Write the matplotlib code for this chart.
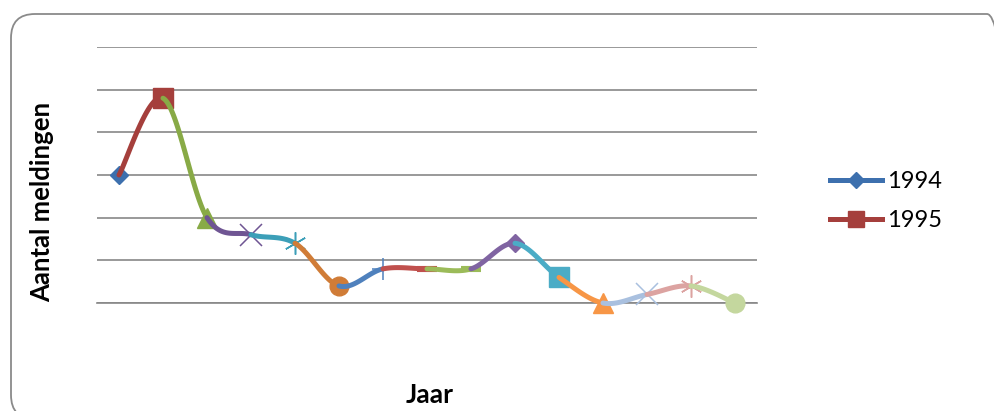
import numpy as np
import matplotlib.pyplot as plt
from matplotlib.lines import Line2D
from matplotlib.patches import FancyBboxPatch
from matplotlib.transforms import IdentityTransform

plt.rcParams['font.family'] = ['Lato', 'DejaVu Sans']

jaren = [1994, 1995, 1996, 1997, 1998, 1999, 2000, 2001,
         2002, 2003, 2004, 2005, 2006, 2007, 2008]
meldingen = [15, 24, 10, 8, 7, 2, 4, 4, 4, 7, 3, 0, 1, 2, 0]

kleuren = ['#3d70ae', '#a53f3c', '#88aa46', '#6f5593', '#3c9fb8', '#d07c37',
           '#4f81bd', '#c0504d', '#9bbb59', '#8064a2', '#4bacc6', '#f79646',
           '#a9c0df', '#dca3a1', '#c4d79e']
markers = ['D', 's', '^', 'x', (6, 2, 0), 'o', '+', '_',
           '_', 'D', 's', '^', 'x', (6, 2, 0), 'o']
maten = {'D': 9, 's': 14, '^': 15, 'x': 16, 'o': 13.5, '+': 16, '_': 14}


def bezier_stuk(p, i, n=40):
    # smoothed piece between point i and i+1, Excel style
    vorige = p[max(i - 1, 0)]
    a = p[i]
    b = p[i + 1]
    volgende = p[min(i + 2, len(p) - 1)]
    c1 = a + (b - vorige) / 6
    c2 = b - (volgende - a) / 6
    t = np.linspace(0, 1, n)[:, None]
    return (1 - t) ** 3 * a + 3 * (1 - t) ** 2 * t * c1 + 3 * (1 - t) * t ** 2 * c2 + t ** 3 * b


fig = plt.figure(figsize=(9.94, 4.11), dpi=100)

rand = FancyBboxPatch((11, -8), 1000, 405, boxstyle='round,pad=0,rounding_size=24',
                      transform=IdentityTransform(), facecolor='none',
                      edgecolor='#8a8a8a', lw=1.3, zorder=-5)
fig.patches.append(rand)

ax = fig.add_axes([97 / 994, 108 / 411, 660 / 994, 256 / 411])
ax.set_facecolor('none')

x = np.arange(1, len(jaren) + 1)
punten = np.column_stack([x, meldingen]).astype(float)

for k in range(len(jaren)):
    kleur = kleuren[k]
    if k > 0:
        stuk = bezier_stuk(punten, k - 1)
        ax.plot(stuk[:, 0], stuk[:, 1], color=kleur, lw=3.6,
                solid_capstyle='round', clip_on=False, zorder=3 + k)
    m = markers[k]
    sleutel = m if isinstance(m, str) else 'x'
    ms = maten[sleutel]
    if m in ('x', '+') or not isinstance(m, str):
        ax.plot(x[k], meldingen[k], marker=m, ms=ms, mew=1.1, color=kleur,
                linestyle='none', clip_on=False, zorder=3 + k)
    elif m == '_':
        ax.plot(x[k], meldingen[k], marker=m, ms=ms, mew=4.4, color=kleur,
                linestyle='none', clip_on=False, zorder=3 + k)
    else:
        ax.plot(x[k], meldingen[k], marker=m, ms=ms, color=kleur, mec=kleur,
                linestyle='none', clip_on=False, zorder=3 + k)

ax.set_xlim(0.5, len(jaren) + 0.5)
ax.set_ylim(0, 30)
ax.set_yticks(range(0, 31, 5))
ax.set_xticks([])
ax.tick_params(length=0, labelleft=False, labelbottom=False)
ax.yaxis.grid(True, color='#878787', lw=1.2)
ax.set_axisbelow(True)
for s in ['top', 'right', 'left']:
    ax.spines[s].set_visible(False)
ax.spines['bottom'].set_color('#878787')
ax.spines['bottom'].set_linewidth(1.2)

fig.text(42 / 994, (411 - 202) / 411, 'Aantal meldingen', rotation=90,
         ha='center', va='center', fontsize=18.5, fontweight='bold')
fig.text(430 / 994, (411 - 395) / 411, 'Jaar', ha='center', va='center',
         fontsize=19, fontweight='bold')

handles = [Line2D([], [], color=kleuren[0], lw=3.6, marker='D', ms=8),
           Line2D([], [], color=kleuren[1], lw=3.6, marker='s', ms=11)]
fig.legend(handles, [str(jaren[0]), str(jaren[1])], loc='center left',
           bbox_to_anchor=(830 / 994, (411 - 201) / 411), frameon=False,
           fontsize=17, handlelength=2.2, handletextpad=0.2, labelspacing=0.75,
           borderpad=0, borderaxespad=0)

fig.savefig('out.png', dpi=100, facecolor='white')
